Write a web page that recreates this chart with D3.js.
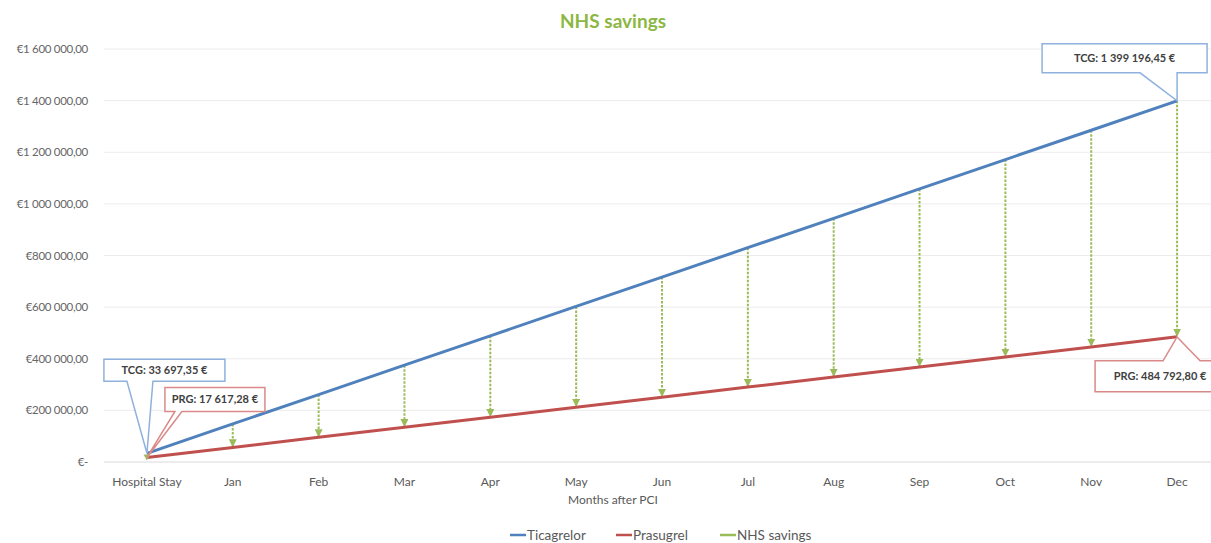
<!DOCTYPE html>
<html>
<head>
<meta charset="utf-8">
<script src="https://cdn.jsdelivr.net/npm/d3@7"></script>
<style>
  body { margin: 0; background: #fff; }
  svg { display: block; font-family: Lato, "Open Sans", sans-serif; }
</style>
</head>
<body>
<div id="chart"></div>
<script>
// values
const categories = ["Hospital Stay", "Jan", "Feb", "Mar", "Apr", "May", "Jun", "Jul", "Aug", "Sep", "Oct", "Nov", "Dec"]
const ticagrelor = [33697.35, 147490, 261280, 375070, 488860, 602660, 716450, 830240, 944030, 1057820, 1171610, 1285400, 1399196.45]
const prasugrel = [17617.28, 56550, 95480, 134410, 173340, 212270, 251210, 290140, 329070, 368000, 406930, 445860, 484792.80]
const yTicks = [0, 200000, 400000, 600000, 800000, 1000000, 1200000, 1400000, 1600000]
const legendItems = ["Ticagrelor", "Prasugrel", "NHS savings"]

const width = 1211, height = 543
const colors = {Ticagrelor: "#4f81bd", Prasugrel: "#c0504d", "NHS savings": "#9bbb59"}

const svg = d3.select("#chart").append("svg")
    .attr("width", width)
    .attr("height", height)

const x = d3.scaleBand().domain(categories).range([104, 1220])
const y = d3.scaleLinear().domain([0, 1600000]).range([462, 49])
const cx = c => x(c) + x.bandwidth() / 2

const fmt = v => v === 0 ? "€-" : "€" + d3.format(",.2f")(v).replace(/,/g, " ").replace(".", ",")

// Title
svg.append("text")
    .attr("x", 613).attr("y", 28)
    .attr("text-anchor", "middle")
    .attr("font-size", 19).attr("font-weight", "bold")
    .attr("fill", "#8cb743")
    .text("NHS savings")

// Gridlines
svg.append("g").selectAll("line")
    .data(yTicks)
    .join("line")
    .attr("x1", 104).attr("x2", width)
    .attr("y1", d => y(d)).attr("y2", d => y(d))
    .attr("stroke", d => d === 0 ? "#d9d9d9" : "#ececec")
    .attr("stroke-width", 1)

// Y axis labels
svg.append("g").selectAll("text")
    .data(yTicks)
    .join("text")
    .attr("x", 88).attr("y", d => y(d) + 4)
    .attr("text-anchor", "end")
    .attr("font-size", 11.5).attr("fill", "#666")
    .attr("letter-spacing", -0.3)
    .text(fmt)

// X axis labels
svg.append("g").selectAll("text")
    .data(categories)
    .join("text")
    .attr("x", d => cx(d)).attr("y", 486)
    .attr("text-anchor", "middle")
    .attr("font-size", 12).attr("fill", "#595959")
    .text(d => d)

svg.append("text")
    .attr("x", 613).attr("y", 504)
    .attr("text-anchor", "middle")
    .attr("font-size", 12).attr("fill", "#595959")
    .text("Months after PCI")

// Savings arrows
const defs = svg.append("defs")
defs.append("marker")
    .attr("id", "arrow")
    .attr("viewBox", "0 0 10 10")
    .attr("refX", 9).attr("refY", 5)
    .attr("markerWidth", 4).attr("markerHeight", 4)
    .attr("orient", "auto")
    .append("path")
    .attr("d", "M0,0 L10,5 L0,10 Z")
    .attr("fill", colors["NHS savings"])

const pairs = categories.map((c, i) => ({c: c, t: ticagrelor[i], p: prasugrel[i]}))

svg.append("g").selectAll("line")
    .data(pairs.slice(1))
    .join("line")
    .attr("x1", d => cx(d.c)).attr("x2", d => cx(d.c))
    .attr("y1", d => y(d.t)).attr("y2", d => y(d.p) - 1)
    .attr("stroke", colors["NHS savings"])
    .attr("stroke-width", 2)
    .attr("stroke-dasharray", "2.5,1.5")
    .attr("marker-end", "url(#arrow)")

// Lines
const line = d3.line().x((d, i) => cx(categories[i])).y(d => y(d))

svg.append("path").datum(ticagrelor)
    .attr("d", line).attr("fill", "none")
    .attr("stroke", colors.Ticagrelor).attr("stroke-width", 3)

svg.append("path").datum(prasugrel)
    .attr("d", line).attr("fill", "none")
    .attr("stroke", colors.Prasugrel).attr("stroke-width", 3)

// zero-length saving marker at hospital stay
svg.append("path")
    .attr("d", d3.symbol(d3.symbolTriangle, 20)())
    .attr("transform", `translate(${cx(categories[0])},${y(prasugrel[0]) - 1}) rotate(180)`)
    .attr("fill", colors["NHS savings"])

// Callouts: box offsets relative to the tip point
function callout(c, v, text, stroke, box, base, below) {
    const tx = cx(c), ty = y(v)
    const x0 = tx + box[0], x1 = tx + box[1], y0 = ty + box[2], y1 = ty + box[3]
    const a = tx + base[0], b = tx + base[1]
    let d
    if (!below)
        d = `M${x0},${y0} H${x1} V${y1} H${b} L${tx},${ty} L${a},${y1} H${x0} Z`
    else
        d = `M${x0},${y0} H${a} L${tx},${ty} L${b},${y0} H${x1} V${y1} H${x0} Z`
    const g = svg.append("g")
    g.append("path").attr("d", d)
        .attr("fill", "#fff").attr("stroke", stroke).attr("stroke-width", 1.5)
    g.append("text")
        .attr("x", (x0 + Math.min(x1, width + 20)) / 2).attr("y", (y0 + y1) / 2 + 4)
        .attr("text-anchor", "middle")
        .attr("font-size", 11).attr("font-weight", "bold").attr("fill", "#404040")
        .text(text)
}

callout("Hospital Stay", ticagrelor[0], "TCG: 33 697,35 €", "#8fb1dd", [-43, 78, -94, -72], [-20, 6], false)
callout("Hospital Stay", prasugrel[0], "PRG: 17 617,28 €", "#d98a88", [18, 118, -70, -46], [28, 35], false)
callout("Dec", ticagrelor[12], "TCG: 1 399 196,45 €", "#8fb1dd", [-135, 30, -57, -28], [-37, 0], false)
callout("Dec", prasugrel[12], "PRG: 484 792,80 €", "#d98a88", [-82, 48, 24, 55], [-14, 23], true)

// Legend
const legend = svg.append("g").selectAll("g")
    .data(legendItems)
    .join("g")
    .attr("transform", (d, i) => `translate(${[510, 616, 720][i]},535)`)

legend.append("line")
    .attr("x1", 0).attr("x2", 16)
    .attr("stroke", d => colors[d]).attr("stroke-width", 2.5)

legend.append("text")
    .attr("x", 17).attr("y", 4.5)
    .attr("font-size", 13.5).attr("fill", "#595959")
    .text(d => d)
</script>
</body>
</html>
